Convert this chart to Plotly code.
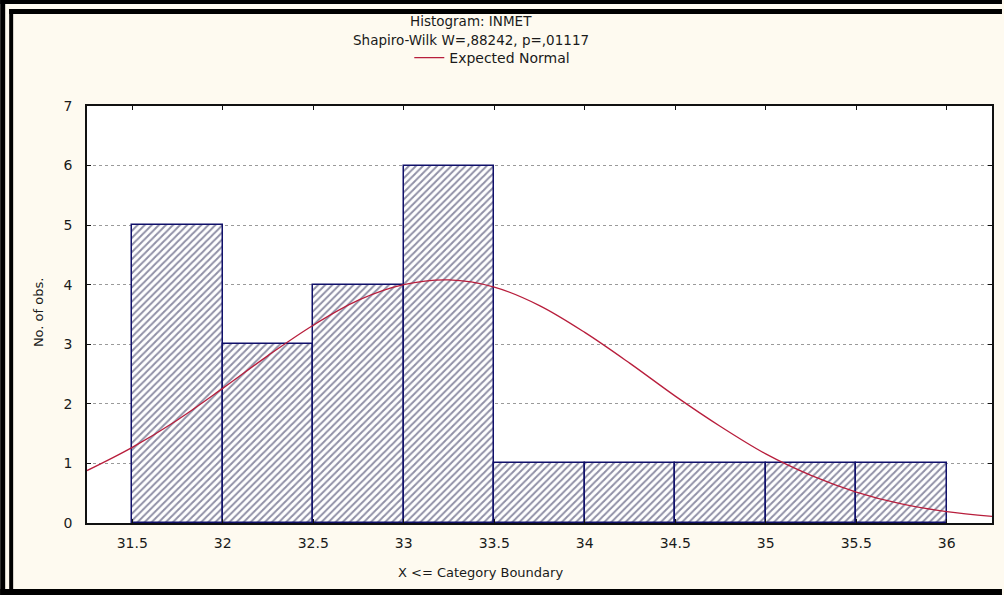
import plotly.graph_objects as go

# ---- data ----
bin_left = [31.5, 32.0, 32.5, 33.0, 33.5, 34.0, 34.5, 35.0, 35.5]
counts = [5, 3, 4, 6, 1, 1, 1, 1, 1]
bin_width = 0.5

curve_x = [31.25, 31.5, 31.75, 32.0, 32.25, 32.5, 32.75, 33.0, 33.25, 33.5, 33.75,
           34.0, 34.25, 34.5, 34.75, 35.0, 35.25, 35.5, 35.75, 36.0, 36.25]
curve_y = [0.88, 1.27, 1.73, 2.26, 2.81, 3.32, 3.74, 4.0, 4.08, 3.96, 3.65,
           3.2, 2.68, 2.13, 1.62, 1.16, 0.80, 0.52, 0.32, 0.19, 0.11]

x_ticks = [31.5, 32, 32.5, 33, 33.5, 34, 34.5, 35, 35.5, 36]
x_tick_labels = ["31.5", "32", "32.5", "33", "33.5", "34", "34.5", "35", "35.5", "36"]
y_ticks = [0, 1, 2, 3, 4, 5, 6, 7]

title_line1 = "Histogram: INMET"
title_line2 = "Shapiro-Wilk W=,88242, p=,01117"
x_title = "X <= Category Boundary"
y_title = "No. of obs."

# ---- layout geometry (pixels) ----
W, H = 1004, 595
L, R, T, B = 87, 10, 106, 72
PW, PH = W - L - R, H - T - B

def px(x):
    return (x - L) / PW

def py(y):
    return (H - B - y) / PH

FONT = "DejaVu Sans, Verdana, sans-serif"
CREAM = "#FEFAF0"
NAVY = "#10106A"
TXT = "#1a1a1a"

fig = go.Figure()

fig.add_trace(go.Bar(
    x=bin_left, y=counts, width=bin_width, offset=0,
    marker=dict(
        color="white",
        line=dict(color=NAVY, width=1.5),
        pattern=dict(shape="/", fgcolor="#22224e", bgcolor="white", size=5, solidity=0.4),
    ),
    showlegend=False,
))

fig.add_trace(go.Scatter(
    x=curve_x, y=curve_y, mode="lines", name="Expected Normal",
    line=dict(color="#B81E3C", width=1.3, shape="spline"),
))

shapes = []
black = dict(type="rect", xref="paper", yref="paper", fillcolor="black", line=dict(width=0), layer="above")
# top double lines
shapes.append(dict(black, x0=px(0), x1=px(W), y0=py(0), y1=py(4)))
shapes.append(dict(black, x0=px(9), x1=px(W), y0=py(9), y1=py(14)))
# left double lines
shapes.append(dict(black, x0=px(0), x1=px(5), y0=py(0), y1=py(H)))
shapes.append(dict(black, x0=px(9), x1=px(13), y0=py(9), y1=py(H)))
# bottom line
shapes.append(dict(black, x0=px(0), x1=px(W), y0=py(589), y1=py(H)))

annotations = [
    dict(text=title_line1, x=px(472), y=py(21), xref="paper", yref="paper",
         showarrow=False, font=dict(family=FONT, size=13.5, color=TXT), xanchor="center", yanchor="middle"),
    dict(text=title_line2, x=px(472), y=py(40), xref="paper", yref="paper",
         showarrow=False, font=dict(family=FONT, size=13.5, color=TXT), xanchor="center", yanchor="middle"),
    dict(text=x_title, x=px(481), y=py(572), xref="paper", yref="paper",
         showarrow=False, font=dict(family=FONT, size=13, color=TXT), xanchor="center", yanchor="middle"),
    dict(text=y_title, x=px(38), y=py(312), xref="paper", yref="paper", textangle=-90,
         showarrow=False, font=dict(family=FONT, size=13, color=TXT), xanchor="center", yanchor="middle"),
]

fig.update_layout(
    width=W, height=H,
    margin=dict(l=L, r=R, t=T, b=B),
    paper_bgcolor=CREAM, plot_bgcolor="white",
    font=dict(family=FONT, size=14, color=TXT),
    bargap=0,
    shapes=shapes,
    annotations=annotations,
    legend=dict(x=px(410), y=py(58), xanchor="left", yanchor="middle",
                orientation="h", bgcolor="rgba(0,0,0,0)",
                font=dict(family=FONT, size=14, color=TXT)),
    xaxis=dict(
        range=[31.25, 36.25], tickvals=x_ticks, ticktext=x_tick_labels,
        showgrid=False, zeroline=False,
        showline=True, linecolor="#111", linewidth=1.5, mirror="ticks",
        ticks="inside", ticklen=4, tickcolor="#111",
        ticklabelstandoff=6,
        tickfont=dict(family=FONT, size=14, color=TXT),
    ),
    yaxis=dict(
        range=[0, 7], tickvals=y_ticks,
        showgrid=True, gridcolor="#9a9a9a", griddash="dot", gridwidth=1,
        zeroline=False,
        showline=True, linecolor="#111", linewidth=1.5, mirror="ticks",
        ticks="inside", ticklen=4, tickcolor="#111",
        ticklabelstandoff=10,
        tickfont=dict(family=FONT, size=14, color=TXT),
    ),
)

fig.write_html(
    "out.html",
    config={"displayModeBar": False},
    post_script="document.body.style.margin='0';document.documentElement.style.overflow='hidden';document.body.style.overflow='hidden';",
)
